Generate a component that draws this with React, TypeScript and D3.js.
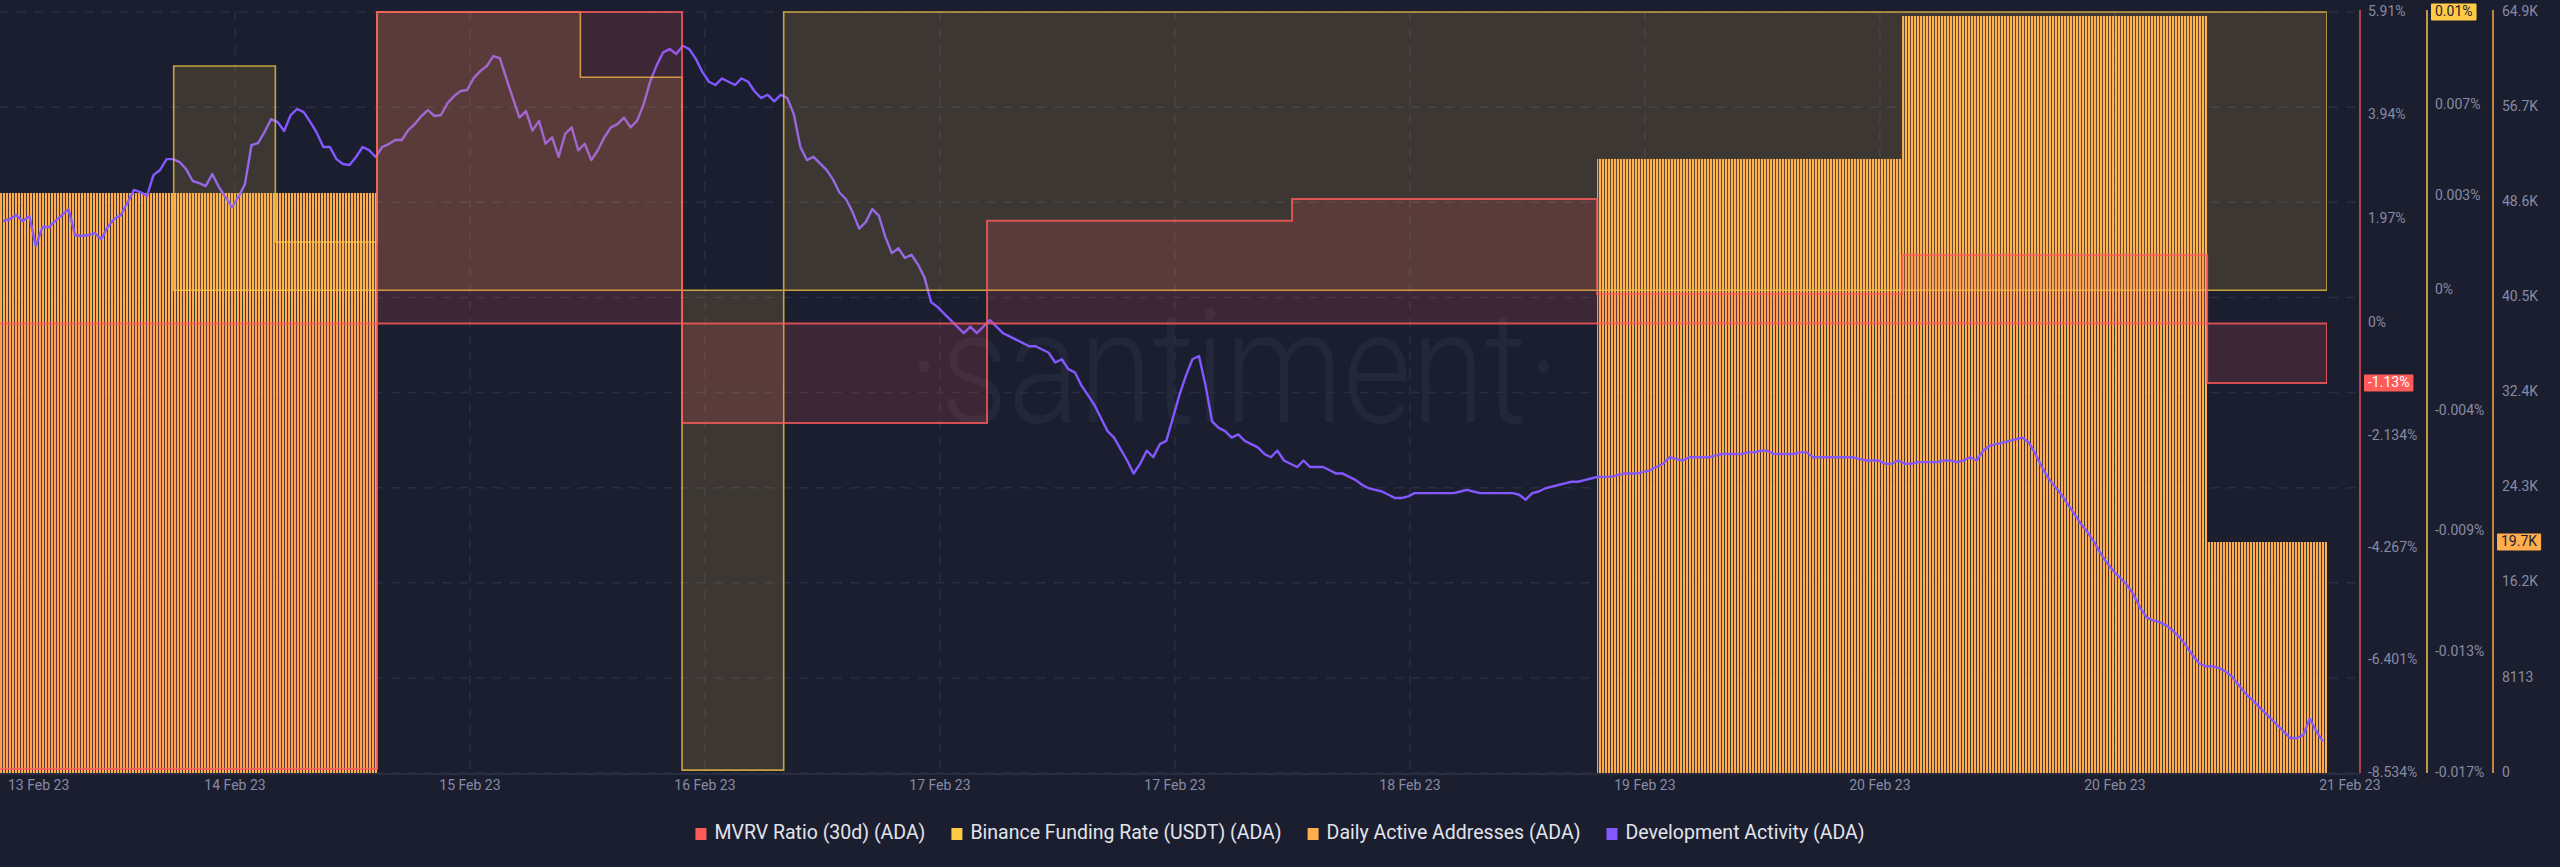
import React, { useEffect, useRef } from 'react';
import * as d3 from 'd3';

// ---------------- DATA ----------------
const xDomainStart = '2023-02-13T18:20:00Z';
const xDomainEnd = '2023-02-21T09:26:00Z';

const xTickLabels = ['13 Feb 23', '14 Feb 23', '15 Feb 23', '16 Feb 23', '17 Feb 23', '17 Feb 23', '18 Feb 23', '19 Feb 23', '20 Feb 23', '20 Feb 23', '21 Feb 23'];
const xTickStepHours = 18.49;

// MVRV Ratio (30d), daily, %
const mvrvDays = ['2023-02-13', '2023-02-14', '2023-02-15', '2023-02-16', '2023-02-17', '2023-02-18', '2023-02-19', '2023-02-20', '2023-02-21'];
const mvrvValues = [-8.46, -8.46, 5.91, -1.89, 1.95, 2.36, 0.56, 1.30, -1.13];
const mvrvTicks = [5.91, 3.94, 1.97, 0, -2.134, -4.267, -6.401, -8.534];
const mvrvTickLabels = ['5.91%', '3.94%', '1.97%', '0%', '-2.134%', '-4.267%', '-6.401%', '-8.534%'];

// Binance Funding Rate (USDT), 8-hourly, %
const fundingStart = '2023-02-14T08:00:00Z';
const fundingStepHours = 8;
const fundingValues = [
  0.0079, 0.0017, 0.0098, 0.0098, 0.0075, -0.0169,
  0.0098, 0.0098, 0.0098, 0.0098, 0.0098, 0.0098, 0.0098, 0.0098,
  0.0098, 0.0098, 0.0098, 0.0098, 0.0098, 0.0098, 0.0098, 0.0098,
];
const fundingTicks = [0.0098, 0.0065, 0.0033, 0, -0.00425, -0.0085, -0.01275, -0.017];
const fundingTickLabels = ['0.01%', '0.007%', '0.003%', '0%', '-0.004%', '-0.009%', '-0.013%', '-0.017%'];

// Daily Active Addresses, daily
const daaDays = ['2023-02-13', '2023-02-14', '2023-02-15', '2023-02-16', '2023-02-17', '2023-02-18', '2023-02-19', '2023-02-20', '2023-02-21'];
const daaValues: (number | null)[] = [49470, 49470, null, null, null, null, 52370, 64560, 19700];
const daaTicks = [0, 8113, 16226, 24339, 32452, 40565, 48678, 56791, 64904];
const daaTickLabels = ['0', '8113', '16.2K', '24.3K', '32.4K', '40.5K', '48.6K', '56.7K', '64.9K'];

// Development Activity (hidden axis)
const devStart = '2023-02-13T18:35:00Z';
const devStepMinutes = 30.85;
const devDomain = [26.6, 492.7];
const devValues = [
  364.7, 365.9, 368.3, 364.7, 367.7, 349.4, 361.0, 361.0, 364.7, 368.3,
  372.0, 356.1, 355.5, 356.1, 357.3, 353.6, 361.0, 365.9, 368.3, 375.7,
  383.7, 382.4, 380.0, 392.8, 395.9, 402.6, 402.6, 400.8, 396.5, 389.2,
  387.9, 386.1, 393.4, 385.5, 379.4, 373.2, 379.4, 387.3, 411.2, 412.4,
  419.2, 427.1, 425.3, 419.8, 429.6, 433.3, 431.4, 425.3, 418.6, 410.0,
  410.0, 402.6, 399.6, 399.0, 403.9, 410.0, 408.1, 403.9, 410.0, 411.8,
  414.3, 414.3, 420.4, 424.1, 429.0, 432.6, 429.0, 429.6, 436.9, 441.2,
  444.3, 444.9, 452.2, 456.5, 459.6, 465.7, 464.5,
  452, 440, 428, 432, 420, 426, 412, 416, 404, 418,
  422, 408, 412, 402, 408, 416, 422, 424, 428, 422,
  426, 436, 450, 460, 468, 470, 467, 472, 470, 464,
  456, 450, 448, 452, 450, 448, 452, 450, 444, 440,
  442, 438, 442, 440, 430, 410, 402, 404, 400, 396,
  390, 382, 378, 370, 360, 364, 372, 368, 355, 345,
  348, 342, 344, 338, 330, 315, 312, 308, 304, 300,
  296, 300, 296, 300, 304, 300, 296, 294, 292, 290,
  288, 288, 286, 284, 278, 280, 274, 272, 264, 258,
  252, 244, 236, 232, 225, 218, 210, 216, 224, 220,
  228, 230, 244, 258, 270, 280, 282, 264, 242, 238,
  236, 232, 234, 230, 228, 226, 222, 220, 224, 218,
  216, 214, 218, 214, 214, 214, 212, 210, 210, 208,
  206, 203, 201, 200, 199, 197, 195, 195, 196, 198,
  198, 198, 198, 198, 198, 198, 199, 200, 199, 198,
  198, 198, 198, 198, 198, 197, 194, 198, 199, 201,
  202, 203, 204, 205, 205, 206, 207, 208, 208, 208,
  209, 210, 210, 210, 211, 212, 214, 216, 220, 219,
  218, 220, 220, 220, 220, 221, 222, 222, 222, 222,
  223, 223, 224, 224, 222, 222, 222, 222, 223, 223,
  220, 220, 220, 220, 220, 220, 220, 219, 218, 218,
  218, 216, 216, 218, 216, 216, 217, 217, 217, 217,
  218, 218, 217, 218, 220, 218, 224, 227, 228, 229,
  230, 231, 232, 229, 222, 214, 207, 202, 197, 191,
  185, 179, 174, 168, 161, 155, 150, 146, 142, 136,
  128, 122, 120, 119, 117, 114, 110, 105, 99, 94,
  92, 92, 91, 89, 86, 81, 76, 72, 68, 64,
  60, 56, 52, 48, 48, 50, 60, 52, 46,
];

const legendNames = ['MVRV Ratio (30d) (ADA)', 'Binance Funding Rate (USDT) (ADA)', 'Daily Active Addresses (ADA)', 'Development Activity (ADA)'];
const legendColors = ['#ff5b5b', '#ffcb47', '#ffad4d', '#8358ff'];

// ---------------- LAYOUT / STYLE ----------------
const W = 2560;
const H = 867;
const M = { left: 0, right: 2327, top: 12, bottom: 773 };
const AX = { mvrv: 2360, funding: 2427, daa: 2493 };
const BG = '#1b1e2f';
const FONT = 'Roboto, "Open Sans", sans-serif';
const TICK_COLOR = '#878ba4';
const GRID_COLOR = '#2b2e42';

function draw(el: SVGSVGElement) {
  const svg = d3.select(el);
  svg.selectAll('*').remove();

  const t0 = new Date(xDomainStart);
  const t1 = new Date(xDomainEnd);
  const x = d3.scaleUtc().domain([t0, t1]).range([M.left, M.right]);
  const yMvrv = d3.scaleLinear().domain([-8.534, 5.91]).range([M.bottom, M.top]);
  const yFund = d3.scaleLinear().domain([-0.017, 0.0098]).range([M.bottom, M.top]);
  const yDaa = d3.scaleLinear().domain([0, 64904]).range([M.bottom, M.top]);
  const yDev = d3.scaleLinear().domain(devDomain).range([M.bottom, M.top]);
  const parseDay = d3.utcParse('%Y-%m-%d');

  const defs = svg.append('defs');
  defs.append('clipPath').attr('id', 'plotClip')
    .append('rect').attr('x', M.left).attr('y', 0).attr('width', M.right - M.left).attr('height', M.bottom + 3);
  const pat = defs.append('pattern').attr('id', 'daaStripes')
    .attr('patternUnits', 'userSpaceOnUse').attr('width', 3).attr('height', 10);
  pat.append('rect').attr('x', 0).attr('y', 0).attr('width', 2).attr('height', 10)
    .attr('fill', '#ffad4d').attr('shape-rendering', 'crispEdges');
  pat.append('rect').attr('x', 2).attr('y', 0).attr('width', 1).attr('height', 10)
    .attr('fill', '#ffad4d').attr('opacity', 0.18).attr('shape-rendering', 'crispEdges');

  svg.append('rect').attr('width', W).attr('height', H).attr('fill', BG);

  // watermark
  svg.append('text')
    .attr('x', 908).attr('y', 422)
    .attr('textLength', 652).attr('lengthAdjust', 'spacingAndGlyphs')
    .attr('font-family', FONT).attr('font-weight', 300).attr('font-size', 158)
    .attr('fill', '#23273a')
    .text('·santiment·');

  // grid
  const grid = svg.append('g');
  daaTicks.forEach((v) => {
    grid.append('line').attr('x1', M.left).attr('x2', AX.mvrv)
      .attr('y1', yDaa(v)).attr('y2', yDaa(v))
      .attr('stroke', GRID_COLOR).attr('stroke-width', 1.5).attr('stroke-dasharray', '9 8');
  });
  const xTicks = xTickLabels.map((_, i) => new Date(t0.getTime() + i * xTickStepHours * 3600000));
  xTicks.forEach((t, i) => {
    const px = x(t);
    if (i === 0 || px > M.right) return;
    grid.append('line').attr('x1', px).attr('x2', px).attr('y1', M.top).attr('y2', M.bottom)
      .attr('stroke', GRID_COLOR).attr('stroke-width', 1.5).attr('stroke-dasharray', '9 8');
  });

  const plot = svg.append('g').attr('clip-path', 'url(#plotClip)');

  // DAA bars
  daaDays.forEach((d, i) => {
    const v = daaValues[i];
    if (v == null) return;
    const s = parseDay(d)!;
    const e = d3.utcDay.offset(s, 1);
    const xa = Math.max(M.left, x(s));
    const xb = Math.min(M.right, x(e));
    if (xb <= xa) return;
    plot.append('rect').attr('x', xa).attr('y', yDaa(v)).attr('width', xb - xa).attr('height', M.bottom - yDaa(v))
      .attr('fill', 'url(#daaStripes)');
  });

  // Dev activity line
  const devPts = devValues.map((v, i) => ({ t: new Date(new Date(devStart).getTime() + i * devStepMinutes * 60000), v }));
  plot.append('path').datum(devPts)
    .attr('d', d3.line<{ t: Date; v: number }>().x((d) => x(d.t)).y((d) => yDev(d.v)))
    .attr('fill', 'none').attr('stroke', '#8358ff').attr('stroke-width', 2.4).attr('stroke-linejoin', 'round');

  // Funding area
  const fPts = fundingValues.map((v, i) => ({ t: new Date(new Date(fundingStart).getTime() + i * fundingStepHours * 3600000), v }));
  fPts.push({ t: t1, v: fundingValues[fundingValues.length - 1] });
  plot.append('path').datum(fPts)
    .attr('d', d3.area<{ t: Date; v: number }>().curve(d3.curveStepAfter).x((d) => x(d.t)).y0(yFund(0)).y1((d) => yFund(d.v)))
    .attr('fill', '#ffcb47').attr('fill-opacity', 0.15)
    .attr('stroke', '#ffcb47').attr('stroke-opacity', 0.75).attr('stroke-width', 1.6);

  // MVRV area
  const mPts = mvrvDays.map((d, i) => ({ t: parseDay(d)!, v: mvrvValues[i] }));
  mPts.push({ t: t1, v: mvrvValues[mvrvValues.length - 1] });
  plot.append('path').datum(mPts)
    .attr('d', d3.area<{ t: Date; v: number }>().curve(d3.curveStepAfter).x((d) => x(d.t)).y0(yMvrv(0)).y1((d) => yMvrv(d.v)))
    .attr('fill', '#ff5b5b').attr('fill-opacity', 0.15)
    .attr('stroke', '#ff5b5b').attr('stroke-opacity', 0.8).attr('stroke-width', 2);

  // bottom axis baseline
  svg.append('line').attr('x1', 0).attr('x2', AX.mvrv).attr('y1', M.bottom + 1).attr('y2', M.bottom + 1)
    .attr('stroke', '#2a2d40').attr('stroke-width', 2);

  // x labels
  const xl = svg.append('g').attr('font-family', FONT).attr('font-size', 14).attr('fill', TICK_COLOR);
  xTicks.forEach((t, i) => {
    const px = x(t);
    xl.append('text').attr('x', i === 0 ? 8 : px).attr('y', 786)
      .attr('text-anchor', i === 0 ? 'start' : 'middle').attr('dominant-baseline', 'middle')
      .text(xTickLabels[i]);
  });

  // right axes
  const axisLine = (xp: number, color: string) =>
    svg.append('line').attr('x1', xp).attr('x2', xp).attr('y1', 10).attr('y2', M.bottom)
      .attr('stroke', color).attr('stroke-width', 1.6);
  axisLine(AX.mvrv, '#d44f4f');
  axisLine(AX.funding, '#e8b844');
  axisLine(AX.daa, '#eea14a');

  const tickG = svg.append('g').attr('font-family', FONT).attr('font-size', 14).attr('fill', TICK_COLOR).attr('dominant-baseline', 'middle');
  mvrvTicks.forEach((v, i) => tickG.append('text').attr('x', AX.mvrv + 8).attr('y', yMvrv(v)).text(mvrvTickLabels[i]));
  fundingTicks.forEach((v, i) => { if (i > 0) tickG.append('text').attr('x', AX.funding + 8).attr('y', yFund(v)).text(fundingTickLabels[i]); });
  daaTicks.forEach((v, i) => tickG.append('text').attr('x', AX.daa + 9).attr('y', yDaa(v)).text(daaTickLabels[i]));

  // value boxes
  const box = (xp: number, yp: number, label: string, fill: string, textFill: string) => {
    const g = svg.append('g');
    const r = g.append('rect').attr('fill', fill).attr('rx', 1);
    const t = g.append('text').attr('x', xp + 4).attr('y', yp).attr('dominant-baseline', 'middle')
      .attr('font-family', FONT).attr('font-size', 14).attr('fill', textFill).text(label);
    const w = (t.node() as SVGTextElement).getComputedTextLength();
    r.attr('x', xp).attr('y', yp - 8.5).attr('width', w + 8).attr('height', 17);
  };
  box(AX.mvrv + 4, yMvrv(mvrvValues[mvrvValues.length - 1]), '-1.13%', '#ff5b5b', '#ffffff');
  box(AX.funding + 4, yFund(fundingValues[fundingValues.length - 1]), '0.01%', '#ffcb47', '#1b1e2f');
  box(AX.daa + 4, yDaa(daaValues[daaValues.length - 1] as number), '19.7K', '#ffad4d', '#1b1e2f');

  // legend
  const lg = svg.append('g');
  const items = legendNames.map((name, i) => {
    const g = lg.append('g');
    g.append('rect').attr('x', 0).attr('y', -6).attr('width', 11).attr('height', 12).attr('fill', legendColors[i]);
    const t = g.append('text').attr('x', 19).attr('y', 0).attr('dominant-baseline', 'middle')
      .attr('font-family', FONT).attr('font-size', 19.5).attr('fill', '#e2e4ec').text(name);
    return { g, w: 19 + (t.node() as SVGTextElement).getComputedTextLength() };
  });
  const gap = 26;
  const total = d3.sum(items, (d) => d.w) + gap * (items.length - 1);
  let cx = W / 2 - total / 2;
  items.forEach((it) => {
    it.g.attr('transform', `translate(${cx},834)`);
    cx += it.w + gap;
  });
}

export default function App() {
  const ref = useRef<SVGSVGElement>(null);
  useEffect(() => {
    if (ref.current) draw(ref.current);
  }, []);
  return (
    <>
      <style>{`html,body{margin:0;padding:0;background:${BG};overflow:hidden;}`}</style>
      <svg ref={ref} width={W} height={H} style={{ display: 'block' }} />
    </>
  );
}
